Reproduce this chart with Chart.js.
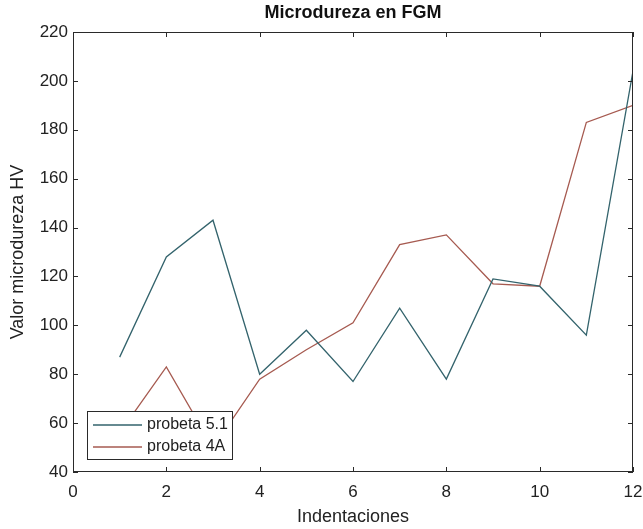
<!DOCTYPE html>
<html>
<head>
<meta charset="utf-8">
<script src="https://cdn.jsdelivr.net/npm/chart.js"></script>
<style>
  body { margin: 0; background: #fff; }
  #wrap { width: 643px; height: 529px; }
</style>
</head>
<body>
<div id="wrap"><canvas id="hardnessChart" width="643" height="529"></canvas></div>
<script>
    // Values (HV per indentation)
    const indentations = [1, 2, 3, 4, 5, 6, 7, 8, 9, 10, 11, 12];
    const probeta51 = [87, 128, 143, 80, 98, 77, 107, 78, 119, 116, 96, 204];
    const probeta4A = [56, 83, 50, 78, 90, 101, 133, 137, 117, 116, 183, 190];
    const xTicks = [0, 2, 4, 6, 8, 10, 12];
    const yTicks = [40, 60, 80, 100, 120, 140, 160, 180, 200, 220];

    const toPoints = vals => indentations.map((x, i) => ({ x: x, y: vals[i] }));

    // MATLAB style frame: closed box with inward ticks, legend inside the axes
    const framePlugin = {
        id: 'frame',
        afterDraw(chart) {
            const { ctx, chartArea: a, scales: { x, y } } = chart;
            const tick = 5;
            ctx.save();
            ctx.strokeStyle = '#2a2a2a';
            ctx.lineWidth = 1;
            ctx.strokeRect(a.left + 0.5, a.top + 0.5, a.right - a.left - 1, a.bottom - a.top - 1);
            ctx.beginPath();
            xTicks.forEach(v => {
                const px = Math.round(x.getPixelForValue(v)) + 0.5;
                ctx.moveTo(px, a.bottom); ctx.lineTo(px, a.bottom - tick);
                ctx.moveTo(px, a.top); ctx.lineTo(px, a.top + tick);
            });
            yTicks.forEach(v => {
                const py = Math.round(y.getPixelForValue(v)) + 0.5;
                ctx.moveTo(a.left, py); ctx.lineTo(a.left + tick, py);
                ctx.moveTo(a.right, py); ctx.lineTo(a.right - tick, py);
            });
            ctx.stroke();

            // legend box, lower left
            const bx = a.left + 14, by = a.bottom - 61, bw = 145, bh = 48;
            ctx.fillStyle = '#fff';
            ctx.fillRect(bx, by, bw, bh);
            ctx.strokeRect(bx + 0.5, by + 0.5, bw, bh);
            ctx.font = '16px "Liberation Sans", Arial, sans-serif';
            ctx.textBaseline = 'middle';
            chart.data.datasets.forEach((ds, i) => {
                const ry = by + 14 + i * 22;
                ctx.strokeStyle = ds.borderColor;
                ctx.lineWidth = 1.3;
                ctx.beginPath();
                ctx.moveTo(bx + 6, ry); ctx.lineTo(bx + 55, ry);
                ctx.stroke();
                ctx.fillStyle = '#222';
                ctx.fillText(ds.label, bx + 60, ry);
            });
            ctx.restore();
        }
    };

    const font = { family: '"Liberation Sans", Arial, sans-serif', size: 17 };

    const ctx = document.getElementById('hardnessChart').getContext('2d');
    new Chart(ctx, {
        type: 'line',
        data: {
            datasets: [
                {
                    label: 'probeta 5.1',
                    data: toPoints(probeta51),
                    borderColor: '#33636c',
                    borderWidth: 1.3,
                    pointRadius: 0,
                    tension: 0,
                    fill: false
                },
                {
                    label: 'probeta 4A',
                    data: toPoints(probeta4A),
                    borderColor: '#a65a50',
                    borderWidth: 1.3,
                    pointRadius: 0,
                    tension: 0,
                    fill: false
                }
            ]
        },
        options: {
            responsive: false,
            animation: false,
            layout: { padding: { top: 0, left: 0, right: 10, bottom: 0 } },
            scales: {
                x: {
                    type: 'linear',
                    min: 0,
                    max: 12,
                    afterBuildTicks: s => { s.ticks = xTicks.map(v => ({ value: v })); },
                    afterFit: s => { s.height = 57; s.paddingLeft = 0; s.paddingRight = 0; },
                    grid: { display: false, drawTicks: false },
                    border: { display: false },
                    ticks: { color: '#222', font: font, padding: 10, maxRotation: 0 },
                    title: { display: true, text: 'Indentaciones', color: '#222', font: { ...font, size: 18 }, padding: { top: 0, bottom: 1 } }
                },
                y: {
                    type: 'linear',
                    min: 40,
                    max: 220,
                    afterBuildTicks: s => { s.ticks = yTicks.map(v => ({ value: v })); },
                    afterFit: s => { s.width = 73; s.paddingTop = 0; s.paddingBottom = 0; },
                    grid: { display: false, drawTicks: false },
                    border: { display: false },
                    ticks: { color: '#222', font: font, padding: 5 },
                    title: { display: true, text: 'Valor microdureza HV', color: '#222', font: { ...font, size: 18 }, padding: { top: 7, bottom: 0 } }
                }
            },
            plugins: {
                legend: { display: false },
                tooltip: { enabled: false },
                title: {
                    display: true,
                    fullSize: false,
                    text: 'Microdureza en FGM',
                    color: '#111',
                    font: { ...font, size: 18, weight: 'bold' },
                    padding: { top: 2, bottom: 8.4 }
                }
            }
        },
        plugins: [framePlugin]
    });
</script>
</body>
</html>
